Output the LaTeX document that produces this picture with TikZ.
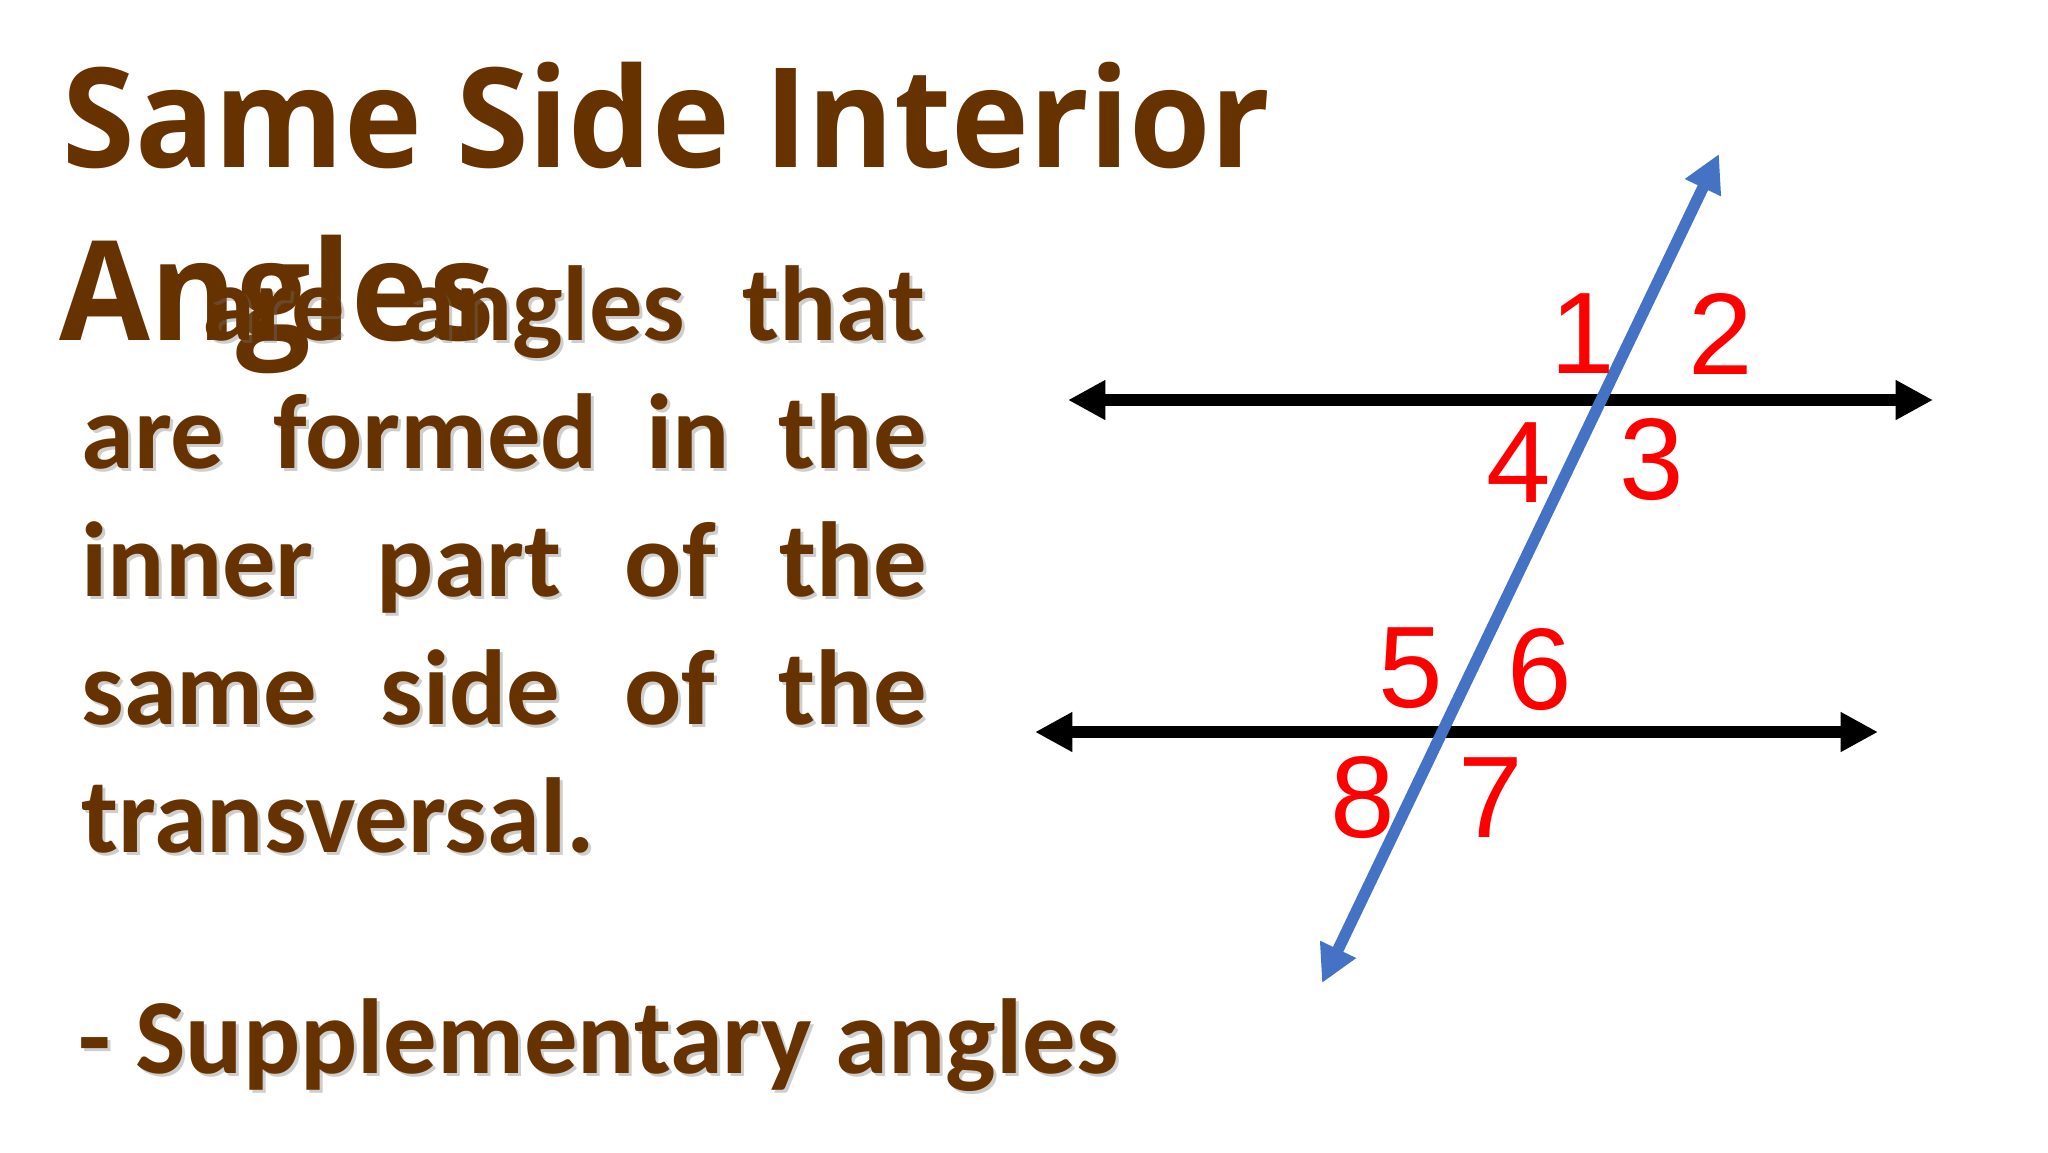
\documentclass[tikz,border=0pt]{standalone}
\usepackage{fontspec}
\setmainfont{Carlito}
\newfontfamily\titlefont{Open Sans}[FakeStretch=0.95]
\newfontfamily\digitfont{Liberation Sans}
\usetikzlibrary{arrows.meta}
\definecolor{tbrown}{HTML}{663300}
\definecolor{tblue}{HTML}{4472C4}
\tikzset{
  titletext/.style={font=\titlefont\bfseries\fontsize{52}{52}\selectfont, text=tbrown, anchor=base west, inner sep=0pt},
  bodytext/.style={font=\bfseries\fontsize{40}{40}\selectfont, text=tbrown, anchor=base west, inner sep=0pt},
  shadowtext/.style={bodytext, text=black!55, opacity=0.35},
  digit/.style={font=\digitfont\fontsize{43.5}{43.5}\selectfont, text=red, inner sep=0pt, anchor=center},
  parline/.style={line width=4.3pt, draw=black, {Triangle[length=14pt,width=14pt]}-{Triangle[length=14pt,width=14pt]}},
  transline/.style={line width=4.3pt, draw=tblue, {Triangle[length=14pt,width=14pt]}-{Triangle[length=14pt,width=14pt]}}
}
\newcommand\bodyline[4]{%
  \node[shadowtext] (#1s) at ({#2+3},{#3+3}) {#4};
  \node[bodytext] (#1) at (#2,#3) {#4};}
\begin{document}
\begin{tikzpicture}[x=0.375pt,y=-0.375pt]
\useasboundingbox[fill=white] (0,0) rectangle (2048,1152);
% title
\node[titletext] (title1) at (62,167) {Same Side Interior};
\node[titletext] (title2) at (59,340) {Angles};
% body
\bodyline{l1}{202}{340}{\hbox to 271pt{are\hfill angles\hfill that}}
\bodyline{l2}{81}{468}{\hbox to 317pt{are\hfill formed\hfill in\hfill the}}
\bodyline{l3}{81}{596}{\hbox to 317pt{inner\hfill part\hfill of\hfill the}}
\bodyline{l4}{81}{724}{\hbox to 317pt{same\hfill side\hfill of\hfill the}}
\bodyline{l5}{81}{852}{transversal.}
\bodyline{l6}{78}{1073}{- Supplementary angles}
% diagram
\coordinate (t1) at (1068,400);
\coordinate (t2) at (1933,400);
\coordinate (b1) at (1035,732);
\coordinate (b2) at (1878,732);
\coordinate (s1) at (1322,983);
\coordinate (s2) at (1719,154);
\draw[parline] (t1) -- (t2);
\draw[parline] (b1) -- (b2);
\draw[transline] (s1) -- (s2);
\node[digit] (a1) at (1583,334) {1};
\node[digit] (a2) at (1721,334) {2};
\node[digit] (a4) at (1519,463) {4};
\node[digit] (a3) at (1652,460) {3};
\node[digit] (a5) at (1411,668) {5};
\node[digit] (a6) at (1540,670) {6};
\node[digit] (a8) at (1363,798) {8};
\node[digit] (a7) at (1491,798) {7};
\end{tikzpicture}
\end{document}
